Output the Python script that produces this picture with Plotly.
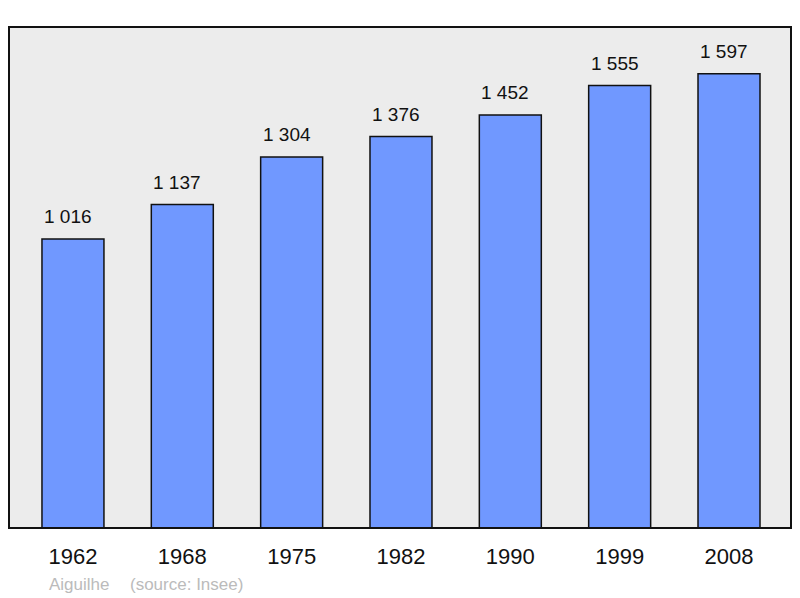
import plotly.graph_objects as go

years = ["1962", "1968", "1975", "1982", "1990", "1999", "2008"]
population = [1016, 1137, 1304, 1376, 1452, 1555, 1597]
labels = ["1 016", "1 137", "1 304", "1 376", "1 452", "1 555", "1 597"]

FONT = "Liberation Sans, Arial"
OFF = 8  # default page body margin in the written html
# target plot box in window pixels: x 9..791, y 27..528
L = 9 - OFF
T = 27 - OFF
R = 800 - (791 - OFF)
B = 598 - (528 - OFF)
PH = 528 - 27

fig = go.Figure()
fig.add_trace(go.Bar(
    x=list(range(len(years))), y=population,
    marker=dict(color="#7098ff", line=dict(color="#111", width=1.5)),
    width=0.567,
))

annotations = [
    dict(x=i, y=v, text=t, xref="x", yref="y", showarrow=False,
         yanchor="bottom", yshift=10, xshift=-5,
         font=dict(family=FONT, size=19, color="#111"))
    for i, (v, t) in enumerate(zip(population, labels))
]
annotations += [
    dict(text="Aiguilhe", xref="paper", yref="paper",
         x=(47 - 9) / 782, y=-(584 - 528) / PH, xanchor="left", yanchor="middle",
         showarrow=False, font=dict(family=FONT, size=17, color="#bbbbbb")),
    dict(text="(source: Insee)", xref="paper", yref="paper",
         x=(128 - 9) / 782, y=-(584 - 528) / PH, xanchor="left", yanchor="middle",
         showarrow=False, font=dict(family=FONT, size=17, color="#bbbbbb")),
]

fig.update_layout(
    width=800, height=598,
    margin=dict(l=L, r=R, t=T, b=B, autoexpand=False),
    paper_bgcolor="white", plot_bgcolor="#ececec",
    showlegend=False,
    xaxis=dict(range=[-0.585, 6.567], tickmode="array",
               tickvals=list(range(len(years))), ticktext=years,
               ticks="outside", ticklen=9, tickcolor="rgba(0,0,0,0)",
               tickfont=dict(family=FONT, size=22, color="#111"),
               showgrid=False, zeroline=False, fixedrange=True),
    yaxis=dict(range=[0, 1761], visible=False, showgrid=False, fixedrange=True),
    shapes=[dict(type="rect", xref="paper", yref="paper", x0=0, x1=1, y0=0, y1=1,
                 line=dict(color="#111", width=2))],
    annotations=annotations,
)
fig.write_html("out.html")
